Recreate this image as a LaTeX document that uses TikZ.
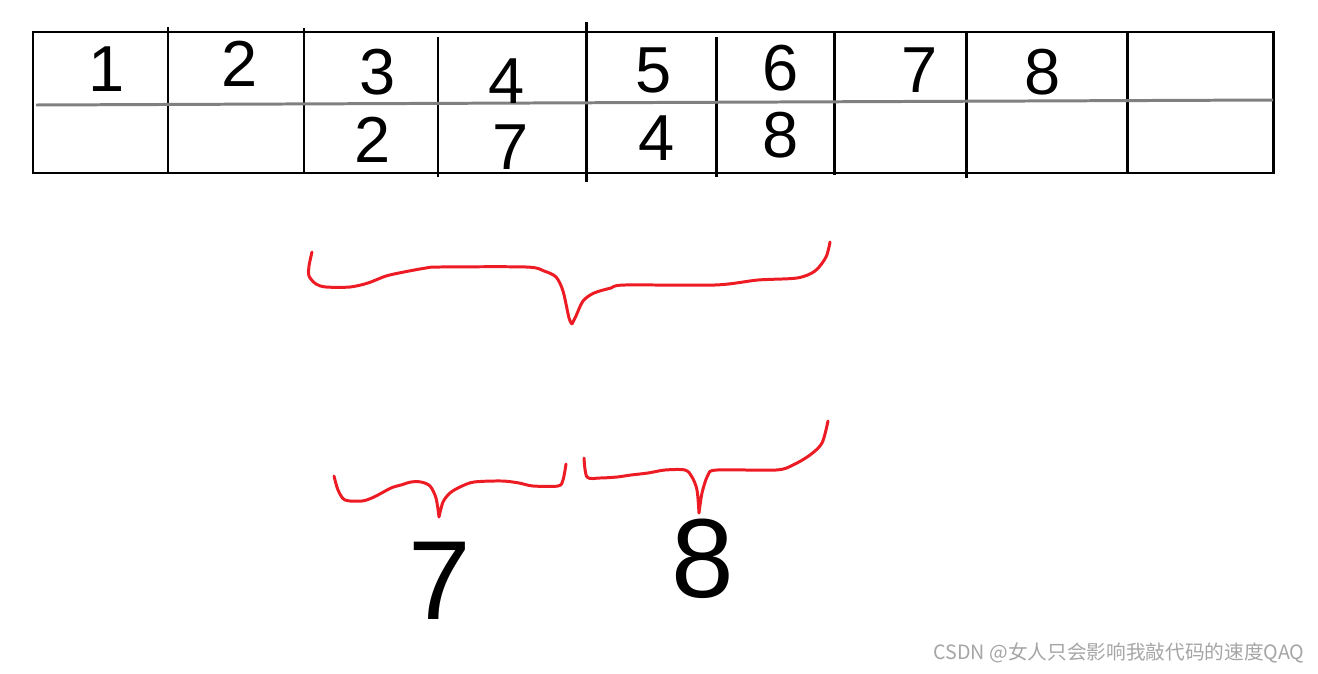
\documentclass[tikz,border=0pt]{standalone}
\usepackage{fontspec}
\setmainfont{Liberation Sans}
\newfontfamily\cjk{Noto Sans CJK SC}
\usetikzlibrary{positioning}
\definecolor{inkred}{RGB}{237, 28, 36}
\definecolor{midgray}{RGB}{128, 128, 128}
\definecolor{markgray}{RGB}{165, 165, 165}

\begin{document}
\begin{tikzpicture}[x=0.02cm, y=-0.02cm, line width=1.7pt,
    digit/.style={inner sep=0pt, font=\fontsize{37}{40}\selectfont},
    bigdigit/.style={inner sep=0pt, font=\fontsize{64}{70}\selectfont},
    redbrace/.style={draw=inkred, line width=1.7pt, line join=round, line cap=round}]
                \useasboundingbox (0,0) rectangle (1318,673);
                % Outer frame of the table
                \draw (33,32) rectangle (1273,173);
                % Column separators, drawn by hand so they stick out a little
                \foreach \x/\ya/\yb in {168/27/173, 304/28/173, 438/37/177, 586/22/182, 716/37/177, 834/33/175, 966/33/178, 1127/32/173}
                    \draw (\x,\ya) -- (\x,\yb);
                % Gray split between the two rows
                \draw[midgray] (36,105) -- (1273,100);

                % Top row
                \foreach \n/\x/\y in {1/107/69, 2/240/64, 3/378/72, 4/507/81, 5/654/70, 6/781/68, 7/920/70, 8/1043/72}
                    \node[digit] (top\n) at (\x,\y) {\n};
                % Bottom row, by column
                \foreach \c/\n/\x/\y in {3/2/373/140, 4/7/511/147, 5/4/657/138, 6/8/781/135}
                    \node[digit] (low\c) at (\x,\y) {\n};

                % Wide brace under columns 3 to 6
                \draw[redbrace] plot[smooth, tension=0.5] coordinates {(312,252) (309,266) (309,276) (316,284) (326,287) (350,287) (368,283) (386,276) (404,272) (426,268) (440,267) (526,267) (544,271) (556,277) (563,291) (569,318) (572,324)}
                    plot[smooth, tension=0.5] coordinates {(572,324) (576,316) (583,301) (594,293) (611,288) (625,285) (715,285) (758,280) (797,278) (815,271) (826,257) (830,242)};
                % Two smaller braces
                \draw[redbrace] plot[smooth, tension=0.5] coordinates {(334,476) (338,490) (345,500) (362,501) (374,497) (391,488) (401,485) (411,482) (421,482) (430,486) (436,498) (439,517)}
                    plot[smooth, tension=0.5] coordinates {(439,517) (443,502) (450,493) (460,487) (474,482) (502,481) (519,483) (533,486) (558,486) (563,480) (566,464)};
                \draw[redbrace] plot[smooth, tension=0.5] coordinates {(584,458) (587,477) (600,478) (617,477) (631,475) (648,473) (665,470) (685,470) (692,477) (697,490) (699,513)}
                    plot[smooth, tension=0.5] coordinates {(699,513) (702,493) (708,475) (717,470) (776,470) (793,465) (810,455) (822,443) (828,421)};

                \node[bigdigit] (left) at (440,581) {7};
                \node[bigdigit] (right) at (703,559) {8};

                \node[text=markgray, font=\cjk\fontsize{11.2}{13}\selectfont] (mark) at (1119,653) {CSDN @女人只会影响我敲代码的速度QAQ};
            \end{tikzpicture}
\end{document}
